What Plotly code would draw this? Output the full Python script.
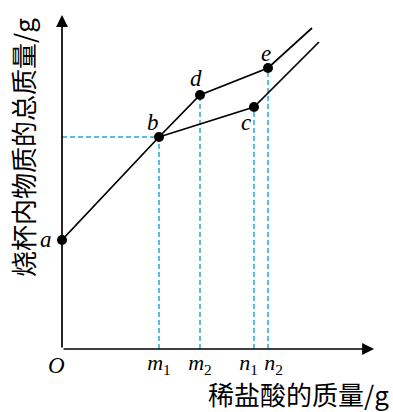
import plotly.graph_objects as go

# data (axis units arbitrary)
upper_x = [0, 97, 138, 206, 250]
upper_y = [109, 212, 254, 281, 321]
lower_x = [97, 192, 257]
lower_y = [212, 242, 307]
pts_names = ["a", "b", "d", "e", "c"]
pts_x = [0, 97, 138, 206, 192]
pts_y = [109, 212, 254, 281, 242]
tick_vals = [97, 138, 192, 206]
tick_text = ["<i>m</i><sub>1</sub>", "<i>m</i><sub>2</sub>",
             "<i>n</i><sub>1</sub>&nbsp;&nbsp;", "&nbsp;&nbsp;<i>n</i><sub>2</sub>"]
label_dx = [-16, -6, -4, -2, -8]
label_dy = [0, 15, 17, 15, -15]

X_RANGE = [0, 310]
Y_RANGE = [0, 334]
BLUE = "#2aa5dc"
SERIF = "Liberation Serif, Times New Roman, serif"
CJK = "Noto Sans CJK SC"


def px(v):
    return (v - X_RANGE[0]) / (X_RANGE[1] - X_RANGE[0])


def py(v):
    return (v - Y_RANGE[0]) / (Y_RANGE[1] - Y_RANGE[0])


fig = go.Figure()
# dashed guides
fig.add_trace(go.Scatter(x=[0, pts_x[1]], y=[pts_y[1], pts_y[1]], mode="lines",
                         line=dict(color=BLUE, width=1.5, dash="5px,3px"), showlegend=False))
for xv, yv in zip(pts_x[1:], pts_y[1:]):
    fig.add_trace(go.Scatter(x=[xv, xv], y=[0, yv], mode="lines",
                             line=dict(color=BLUE, width=1.5, dash="5px,3px"), showlegend=False))
# curves
fig.add_trace(go.Scatter(x=upper_x, y=upper_y, mode="lines",
                         line=dict(color="black", width=1.7), showlegend=False))
fig.add_trace(go.Scatter(x=lower_x, y=lower_y, mode="lines",
                         line=dict(color="black", width=1.7), showlegend=False))
fig.add_trace(go.Scatter(x=pts_x, y=pts_y, mode="markers", cliponaxis=False,
                         marker=dict(color="black", size=10), showlegend=False))

for n, xv, yv, dx, dy in zip(pts_names, pts_x, pts_y, label_dx, label_dy):
    fig.add_annotation(x=px(xv + dx), y=py(yv + dy), xref="paper", yref="paper",
                       xanchor="center", yanchor="middle",
                       text=f"<i>{n}</i>", showarrow=False,
                       font=dict(family=SERIF, size=23, color="black"))

# axes arrows
fig.add_annotation(x=312, y=0, ax=0, ay=0, xref="x", yref="y", axref="x", ayref="y",
                   text="", showarrow=True, arrowhead=2, arrowsize=1.4, arrowwidth=1.7, arrowcolor="black")
fig.add_annotation(x=0, y=334, ax=0, ay=0, xref="x", yref="y", axref="x", ayref="y",
                   text="", showarrow=True, arrowhead=2, arrowsize=1.4, arrowwidth=1.7, arrowcolor="black")

fig.add_annotation(x=px(-6), y=py(-17), xref="paper", yref="paper", xanchor="center", yanchor="middle",
                   text="<i>O</i>", showarrow=False,
                   font=dict(family=SERIF, size=23, color="black"))
fig.add_annotation(x=px(329), xanchor="right", y=py(-45), xref="paper", yref="paper", yanchor="middle",
                   text="稀盐酸的质量/g", showarrow=False,
                   font=dict(family=CJK, size=26, color="black"))
fig.add_annotation(x=px(-40), y=py(201), xref="paper", yref="paper", xanchor="center", yanchor="middle",
                   textangle=-90, text="烧杯内物质的总质量/g", showarrow=False,
                   font=dict(family=CJK, size=26, color="black"))

fig.update_layout(
    width=393, height=412,
    margin=dict(l=62, r=21, t=15, b=63, autoexpand=False),
    plot_bgcolor="white", paper_bgcolor="white",
    xaxis=dict(range=X_RANGE, showgrid=False, zeroline=False, showline=False,
               tickvals=tick_vals, ticktext=tick_text, ticks="", tickangle=0, automargin=False,
               ticklabelstandoff=-2,
               tickfont=dict(family=SERIF, size=22, color="black")),
    yaxis=dict(range=Y_RANGE, showgrid=False, zeroline=False, showline=False,
               showticklabels=False, ticks="", automargin=False),
)
fig.write_html("out.html", config={"displayModeBar": False},
               post_script="document.body.style.margin='0';")
